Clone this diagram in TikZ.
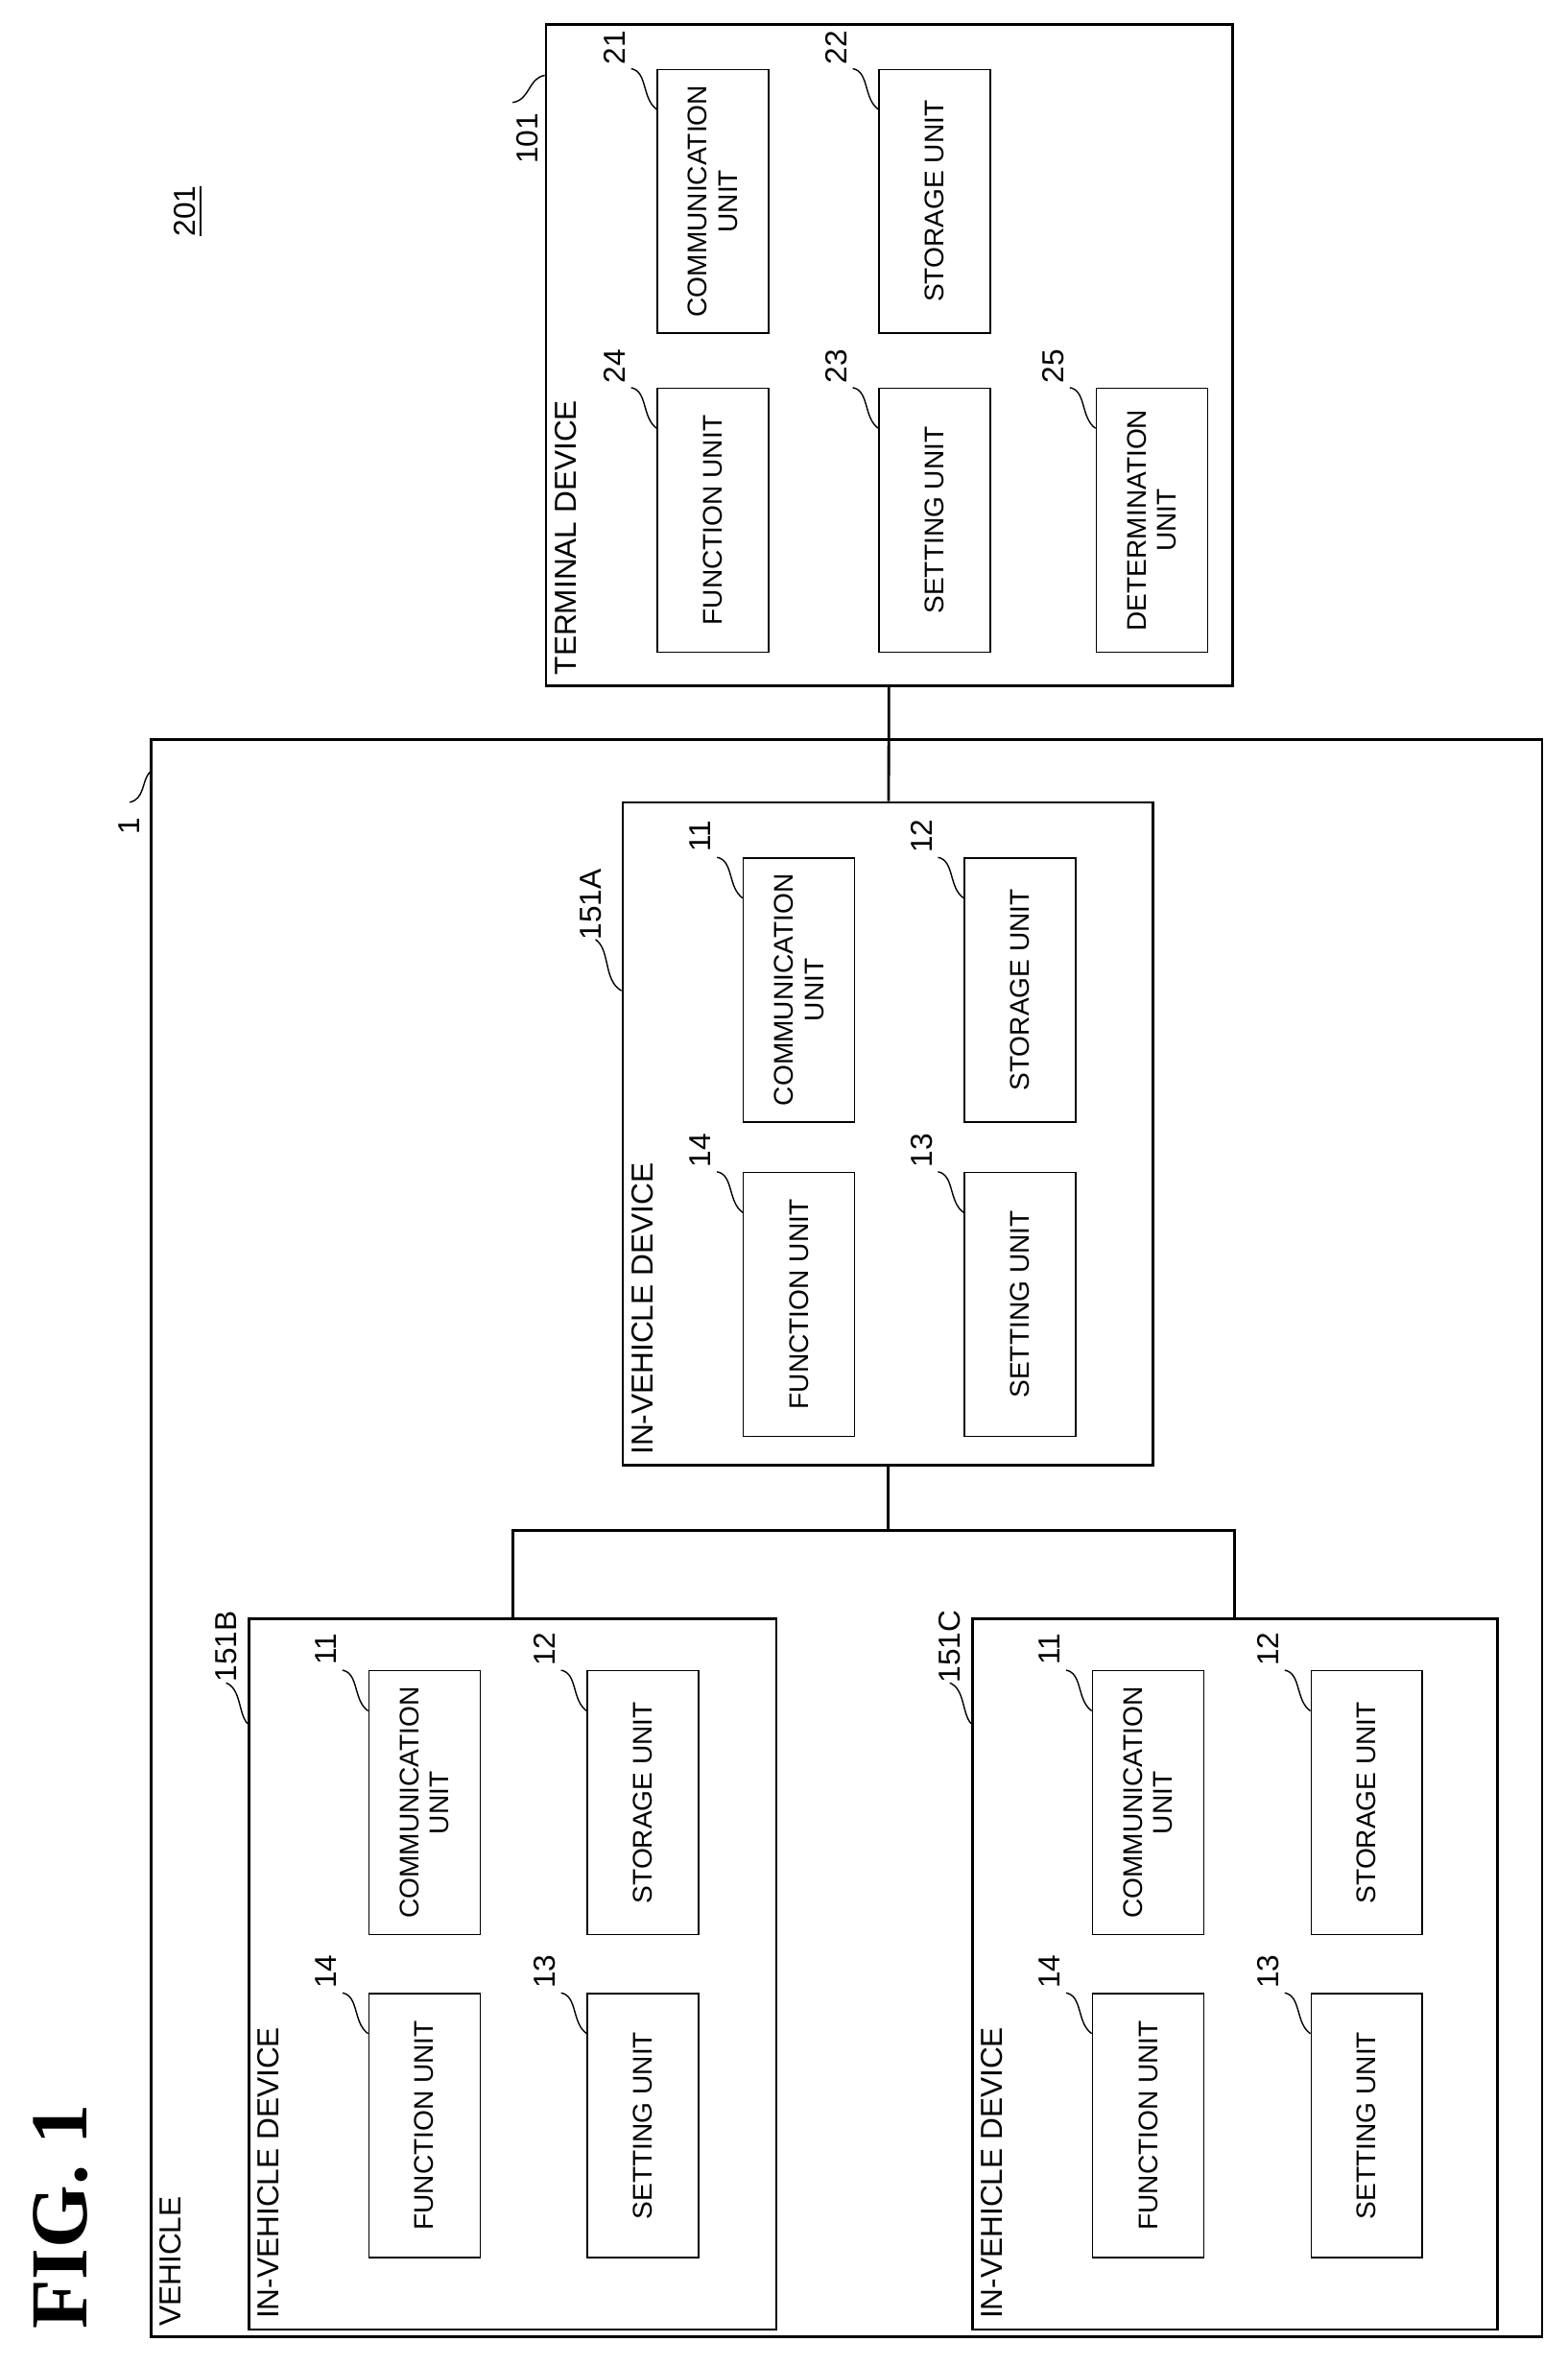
\documentclass[tikz,border=0pt]{standalone}
\usepackage{fontspec}
\setmainfont{Liberation Sans}
\newfontfamily\figfont{Liberation Serif}
\usetikzlibrary{calc}
\tikzstyle{unit} = [rectangle, rotate=90,
minimum width=2.75cm,
minimum height=1.16cm,
text centered,
align=center,
draw=black,
font=\fontsize{8}{9}\selectfont]
\tikzstyle{device} = [rectangle,
draw=black,
thick]
\tikzstyle{ref} = [rotate=90, inner sep=1pt, font=\fontsize{9}{10}\selectfont]
\tikzstyle{title} = [rotate=90, anchor=north west, inner sep=2pt, font=\fontsize{9}{10}\selectfont]
\tikzstyle{leader} = [thin]
\tikzstyle{link} = [thick]
% reference number with a curly leader to the upper left corner of a unit
\newcommand\refmark[3]{%
\node (#3) [ref] at ($(#1)+(-28,-14)$) {#2};
\draw [leader] ($(#1)+(-17,0)$) .. controls ($(#1)+(-6,2)$) and ($(#1)+(-10,20)$) .. ($(#1)+(0,27)$);}

\begin{document}
\begin{tikzpicture}[x=0.015712cm, y=-0.015712cm]
\useasboundingbox (0,0) rectangle (1040,1569);

\node (fig) [rotate=90, font=\figfont\fontsize{24}{24}\selectfont\bfseries] at (40,1470) {FIG. 1};
\node (sys) [ref] at (125,140) {\underline{201}};

% terminal device
\node (term) [device, minimum width=7.16cm, minimum height=6.89cm] at (590,235.5) {};
\node (termt) [title] at ($(term.south west)+(2,-3)$) {TERMINAL DEVICE};
\node (tcomm) [unit] at (473,133.5) {COMMUNICATION\\UNIT};
\node (tstor) [unit] at (620,133.5) {STORAGE UNIT};
\node (tfunc) [unit] at (473,345) {FUNCTION UNIT};
\node (tset) [unit] at (620,345) {SETTING UNIT};
\node (tdet) [unit] at (764,345) {DETERMINATION\\UNIT};
\refmark{tcomm.north east}{21}{r21}
\refmark{tstor.north east}{22}{r22}
\refmark{tfunc.north east}{24}{r24}
\refmark{tset.north east}{23}{r23}
\refmark{tdet.north east}{25}{r25}
\node (r101) [ref] at (350,92) {101};
\draw [leader] (340,68) .. controls (352,66) and (350,52) .. (term.west |- 0,50);

% vehicle
\node (veh) [device, minimum width=14.5cm, minimum height=16.65cm] at (561.5,1020) {};
\node (veht) [title] at ($(veh.south west)+(2,-3)$) {VEHICLE};
\node (r1) [ref] at (86,548) {1};
\draw [leader] (86,532) .. controls (96,530) and (94,518) .. (veh.west |- 0,512);

% in-vehicle device 151A
\node (dva) [device, minimum width=5.53cm, minimum height=6.91cm] at (589,752) {};
\node (dvat) [title] at ($(dva.south west)+(2,-3)$) {IN-VEHICLE DEVICE};
\node (acomm) [unit] at (530,656.5) {COMMUNICATION\\UNIT};
\node (astor) [unit] at (676.5,656.5) {STORAGE UNIT};
\node (afunc) [unit] at (530,865) {FUNCTION UNIT};
\node (aset) [unit] at (676.5,865) {SETTING UNIT};
\refmark{acomm.north east}{11}{ra11}
\refmark{astor.north east}{12}{ra12}
\refmark{afunc.north east}{14}{ra14}
\refmark{aset.north east}{13}{ra13}
\node (ra) [ref] at (392,600) {151A};
\draw [leader] (395,623) .. controls (405,630) and (400,650) .. (dva.west |- 0,657);

% in-vehicle device 151B
\node (dvb) [device, minimum width=5.5cm, minimum height=7.41cm] at (340,1309) {};
\node (dvbt) [title] at ($(dvb.south west)+(2,-3)$) {IN-VEHICLE DEVICE};
\node (bcomm) [unit] at (281.5,1195.5) {COMMUNICATION\\UNIT};
\node (bstor) [unit] at (426.5,1195.5) {STORAGE UNIT};
\node (bfunc) [unit] at (281.5,1409.5) {FUNCTION UNIT};
\node (bset) [unit] at (426.5,1409.5) {SETTING UNIT};
\refmark{bcomm.north east}{11}{rb11}
\refmark{bstor.north east}{12}{rb12}
\refmark{bfunc.north east}{14}{rb14}
\refmark{bset.north east}{13}{rb13}
\node (rb) [ref] at (150,1092) {151B};
\draw [leader] (150,1116) .. controls (160,1120) and (158,1136) .. (dvb.west |- 0,1143);

% in-vehicle device 151C
\node (dvc) [device, minimum width=5.47cm, minimum height=7.41cm] at (819,1309) {};
\node (dvct) [title] at ($(dvc.south west)+(2,-3)$) {IN-VEHICLE DEVICE};
\node (ccomm) [unit] at (761.5,1195.5) {COMMUNICATION\\UNIT};
\node (cstor) [unit] at (906.5,1195.5) {STORAGE UNIT};
\node (cfunc) [unit] at (761.5,1409.5) {FUNCTION UNIT};
\node (cset) [unit] at (906.5,1409.5) {SETTING UNIT};
\refmark{ccomm.north east}{11}{rc11}
\refmark{cstor.north east}{12}{rc12}
\refmark{cfunc.north east}{14}{rc14}
\refmark{cset.north east}{13}{rc13}
\node (rc) [ref] at (630,1092) {151C};
\draw [leader] (630,1116) .. controls (640,1120) and (638,1136) .. (dvc.west |- 0,1143);

% network
\coordinate (bus) at (589,1015);
\draw [link] (term) -- (dva);
\draw [link] (dva) -- (bus);
\draw [link] (dvb.north) |- (bus) -| (dvc.north);
\end{tikzpicture}
\end{document}
